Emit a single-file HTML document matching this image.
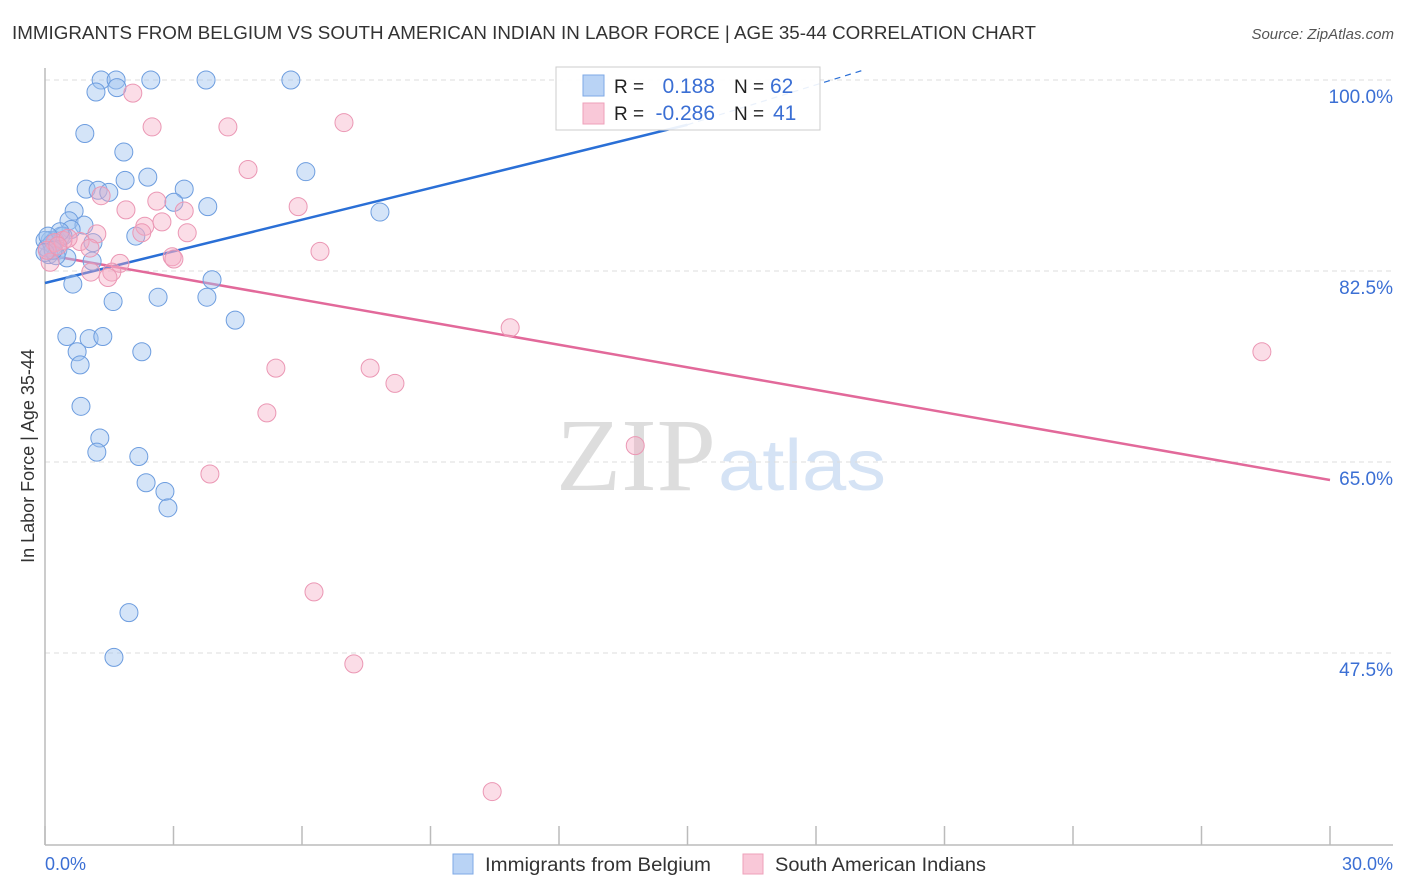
<!DOCTYPE html>
<html><head><meta charset="utf-8">
<style>
body{margin:0;background:#fff;font-family:"Liberation Sans",sans-serif;}
svg{display:block}
</style></head>
<body>
<svg id="chart" width="1406" height="892">
<text x="12" y="39" font-size="18" fill="#333" textLength="1024" lengthAdjust="spacingAndGlyphs">IMMIGRANTS FROM BELGIUM VS SOUTH AMERICAN INDIAN IN LABOR FORCE | AGE 35-44 CORRELATION CHART</text>
<text x="1394" y="39" font-size="15" fill="#555" font-style="italic" text-anchor="end">Source: ZipAtlas.com</text>
<g>
<text x="556" y="490" font-size="104" fill="#ddd" font-family="Liberation Serif, serif" textLength="160" lengthAdjust="spacingAndGlyphs">ZIP</text>
<text x="718" y="490" font-size="72" fill="#d5e3f5" textLength="168" lengthAdjust="spacingAndGlyphs">atlas</text>
</g>
<g id="grid"></g>
<g id="axes"></g>
<g id="lines"></g>
<g id="points"></g>
<text transform="translate(34,456) rotate(-90)" font-size="18" fill="#333" text-anchor="middle">In Labor Force | Age 35-44</text>
<text x="45" y="870" font-size="18" fill="#3b6fd4">0.0%</text>
<text x="1393" y="870" font-size="18" fill="#3b6fd4" text-anchor="end">30.0%</text>
<g>
<rect x="453" y="854" width="20" height="20" fill="#b9d3f5" stroke="#7ea8e6"/>
<text x="485" y="871" font-size="19" fill="#333" textLength="226" lengthAdjust="spacingAndGlyphs">Immigrants from Belgium</text>
<rect x="743" y="854" width="20" height="20" fill="#f9c8d8" stroke="#eea0ba"/>
<text x="775" y="871" font-size="19" fill="#333" textLength="211" lengthAdjust="spacingAndGlyphs">South American Indians</text>
</g>
<g>
<rect x="556" y="67" width="264" height="63" fill="#fff" stroke="#ccc" fill-opacity="0.9"/>
<rect x="583" y="75" width="21" height="21" fill="#b9d3f5" stroke="#7ea8e6"/>
<rect x="583" y="103" width="21" height="21" fill="#f9c8d8" stroke="#eea0ba"/>
<text x="614" y="93" font-size="19" fill="#222">R =</text>
<text x="715" y="93" font-size="21" fill="#3b6fd4" text-anchor="end">0.188</text>
<text x="734" y="93" font-size="19" fill="#222">N =</text>
<text x="770" y="93" font-size="21" fill="#3b6fd4">62</text>
<text x="614" y="120" font-size="19" fill="#222">R =</text>
<text x="715" y="120" font-size="21" fill="#3b6fd4" text-anchor="end">-0.286</text>
<text x="734" y="120" font-size="19" fill="#222">N =</text>
<text x="773" y="120" font-size="21" fill="#3b6fd4">41</text>
</g>
</svg>
<script>
const yTicks=[100,82.5,65,47.5];
const yTickLabels=["100.0%","82.5%","65.0%","47.5%"];
const xTicks=[0,3,6,9,12,15,18,21,24,27,30];
const blueX=[1.31,1.66,2.47,3.76,5.74,1.19,1.68,0.93,1.84,1.87,2.40,0.96,1.24,1.49,3.25,3.80,6.09,7.82,3.01,0.68,0.56,0.91,0.61,0.37,0.12,0.23,0.42,1.12,2.12,0.30,0.09,0.51,1.10,0.65,3.90,2.64,3.78,1.59,4.44,0.51,1.03,1.35,0.75,2.26,0.82,0.84,1.28,1.21,2.19,2.36,2.80,2.87,1.96,1.61,0.0,0.05,0.16,0.26,0.35,0.07,0.19,0.0];
const blueY=[100,100,100,100,100,98.9,99.3,95.1,93.4,90.8,91.1,90.0,89.9,89.7,90.0,88.4,91.6,87.9,88.8,88.0,87.1,86.7,86.3,85.7,85.3,85.3,85.7,85.1,85.7,84.4,84.0,83.7,83.4,81.3,81.7,80.1,80.1,79.7,78.0,76.5,76.3,76.5,75.1,75.1,73.9,70.1,67.2,65.9,65.5,63.1,62.3,60.8,51.2,47.1,85.3,84.6,85.0,83.9,86.1,85.7,84.4,84.2];
const pinkX=[2.05,2.50,4.27,6.98,4.74,5.91,1.89,2.61,3.25,1.31,2.33,2.73,3.32,1.21,2.26,6.42,2.97,3.01,0.82,0.42,1.75,1.07,1.56,1.47,10.86,28.41,5.39,7.59,8.17,5.18,13.78,3.85,6.28,7.21,10.44,0.12,0.23,0.54,0.05,0.30,1.05];
const pinkY=[98.8,95.7,95.7,96.1,91.8,88.4,88.1,88.9,88.0,89.4,86.6,87.0,86.0,85.9,86.0,84.3,83.8,83.6,85.2,85.3,83.2,82.4,82.4,81.9,77.3,75.1,73.6,73.6,72.2,69.5,66.5,63.9,53.1,46.5,34.8,83.3,85.1,85.5,84.4,84.8,84.6];
const blueTrend=[[0,81.4],[15,95.9]];
const blueTrendDash=[[15,95.9],[19.1,100.9]];
const pinkTrend=[[0,84.0],[30,63.35]];

const NS="http://www.w3.org/2000/svg";
const X0=45,X1=1330,YTOP=80,PXPER=10.914;
function sx(v){return X0+(X1-X0)*v/30;}
function sy(v){return YTOP+(100-v)*PXPER;}
function mk(tag,attrs,parent){const e=document.createElementNS(NS,tag);for(const k in attrs)e.setAttribute(k,attrs[k]);document.getElementById(parent).appendChild(e);return e;}

yTicks.forEach((t,i)=>{
  const g=mk('line',{x1:45,x2:1393,y1:sy(t),y2:sy(t),stroke:'#ddd','stroke-dasharray':'5,4'},'grid');
  
  
  const l=mk('text',{x:1393,y:sy(t)+23,'font-size':19,fill:'#3b6fd4','text-anchor':'end'},'grid');
  l.textContent=yTickLabels[i];
  
  
});
let a=mk('line',{x1:45,x2:45,y1:68,y2:845,stroke:'#bbb','stroke-width':1.5},'axes');


a=mk('line',{x1:45,x2:1393,y1:845,y2:845,stroke:'#bbb','stroke-width':1.5},'axes');


xTicks.forEach(t=>{
  const e=mk('line',{x1:sx(t),x2:sx(t),y1:826,y2:845,stroke:'#bbb','stroke-width':1.5},'axes');
  
  
});
function pts(arrX,arrY,fill,stroke,name){
  arrX.forEach((x,i)=>{
    const c=mk('circle',{cx:sx(x),cy:sy(arrY[i]),r:9,fill:fill,stroke:stroke,'stroke-width':1},'points');
    
    
  });
}
pts(blueX,blueY,'rgba(160,195,240,0.45)','#6d9ddf','point-belgium');
pts(pinkX,pinkY,'rgba(246,170,196,0.4)','#eb97b4','point-sa-indian');
let t=mk('line',{x1:sx(blueTrend[0][0]),y1:sy(blueTrend[0][1]),x2:sx(blueTrend[1][0]),y2:sy(blueTrend[1][1]),stroke:'#2a6fd6','stroke-width':2.5},'lines');


t=mk('line',{x1:sx(blueTrendDash[0][0]),y1:sy(blueTrendDash[0][1]),x2:sx(blueTrendDash[1][0]),y2:sy(blueTrendDash[1][1]),stroke:'#2a6fd6','stroke-width':1.2,'stroke-dasharray':'6,5'},'lines');


t=mk('line',{x1:sx(pinkTrend[0][0]),y1:sy(pinkTrend[0][1]),x2:sx(pinkTrend[1][0]),y2:sy(pinkTrend[1][1]),stroke:'#e2699a','stroke-width':2.5},'lines');


</script>
</body></html>
